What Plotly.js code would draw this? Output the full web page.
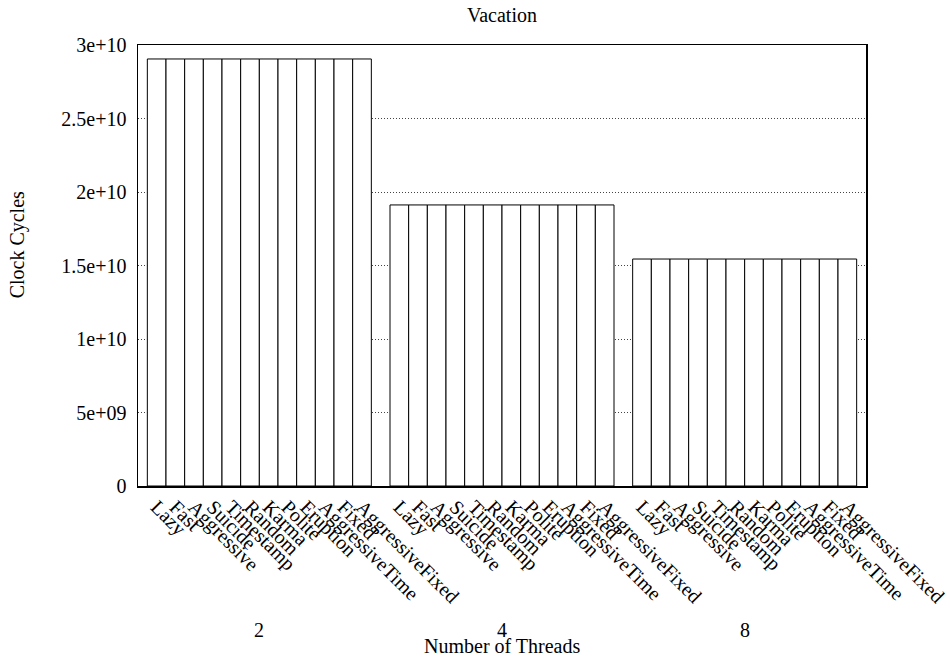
<!DOCTYPE html>
<html>
<head>
<meta charset="utf-8">
<script src="https://cdn.plot.ly/plotly-3.0.1.min.js"></script>
<style>html,body{margin:0;padding:0;background:#fff}#chart{width:950px;height:660px}</style>
</head>
<body>
<div id="chart"></div>
<script>
const methods = ["Lazy","Fast","Aggressive","Suicide","Timestamp","Random","Karma","Polite","Eruption","AggressiveTime","Fixed","AggressiveFixed"];
const threadGroups = ["2","4","8"];
const values2 = [2.905e10,2.905e10,2.905e10,2.905e10,2.905e10,2.905e10,2.905e10,2.905e10,2.905e10,2.905e10,2.905e10,2.905e10];
const values4 = [1.912e10,1.912e10,1.912e10,1.912e10,1.912e10,1.912e10,1.912e10,1.912e10,1.912e10,1.912e10,1.912e10,1.912e10];
const values8 = [1.544e10,1.544e10,1.544e10,1.544e10,1.544e10,1.544e10,1.544e10,1.544e10,1.544e10,1.544e10,1.544e10,1.544e10];
const yTickVals = [0,5e9,1e10,1.5e10,2e10,2.5e10,3e10];
const yTickText = ["0","5e+09","1e+10","1.5e+10","2e+10","2.5e+10","3e+10"];

const groupValues = [values2, values4, values8];
const step = methods.length + 1;
const xs = [], ys = [], tickText = [];
groupValues.forEach((vals, g) => {
  vals.forEach((v, j) => {
    xs.push(g * step + j);
    ys.push(v);
    tickText.push(methods[j]);
  });
});

const font = "Liberation Serif, Times New Roman, serif";
const fs = 20;

const trace = {
  type: "bar",
  x: xs,
  y: ys,
  width: 1,
  marker: {color: "#ffffff", line: {color: "#000000", width: 1}},
  hoverinfo: "skip"
};

const annotations = threadGroups.map((t, g) => ({
  x: g * step + (methods.length - 1) / 2,
  xref: "x",
  y: -0.3265,
  yref: "paper",
  text: t,
  showarrow: false,
  xanchor: "center",
  yanchor: "middle",
  font: {family: font, size: fs, color: "#000"}
}));
annotations.push({
  x: 0.5, xref: "paper", y: -0.362, yref: "paper",
  text: "Number of Threads", showarrow: false,
  xanchor: "center", yanchor: "middle",
  font: {family: font, size: fs, color: "#000"}
});
annotations.push({
  x: -0.166, xref: "paper", y: 0.546, yref: "paper",
  text: "Clock Cycles", showarrow: false, textangle: -90,
  xanchor: "center", yanchor: "middle",
  font: {family: font, size: fs, color: "#000"}
});

const layout = {
  width: 950,
  height: 660,
  paper_bgcolor: "#ffffff",
  plot_bgcolor: "#ffffff",
  margin: {l: 138, r: 84, t: 45, b: 174, pad: 0},
  showlegend: false,
  bargap: 0,
  title: {text: "Vacation", x: 0.5, xref: "paper", xanchor: "center", y: 0.977, yanchor: "middle",
          font: {family: font, size: fs, color: "#000"}},
  xaxis: {
    range: [-1, 3 * step - 1],
    tickmode: "array",
    tickvals: xs,
    ticktext: tickText,
    tickangle: 45,
    ticks: "",
    showgrid: false,
    zeroline: false,
    showline: true,
    mirror: true,
    linecolor: "#000",
    linewidth: 1.5,
    tickfont: {family: font, size: fs, color: "#000"}
  },
  yaxis: {
    range: [0, 3e10],
    tickmode: "array",
    tickvals: yTickVals,
    ticktext: yTickText,
    ticks: "",
    ticklabelstandoff: 6,
    showgrid: true,
    gridcolor: "#444",
    gridwidth: 1,
    griddash: "1px,2px",
    zeroline: false,
    showline: true,
    mirror: true,
    linecolor: "#000",
    linewidth: 1.5,
    tickfont: {family: font, size: fs, color: "#000"}
  },
  annotations: annotations
};

Plotly.newPlot("chart", [trace], layout, {displayModeBar: false, staticPlot: true});
</script>
</body>
</html>
